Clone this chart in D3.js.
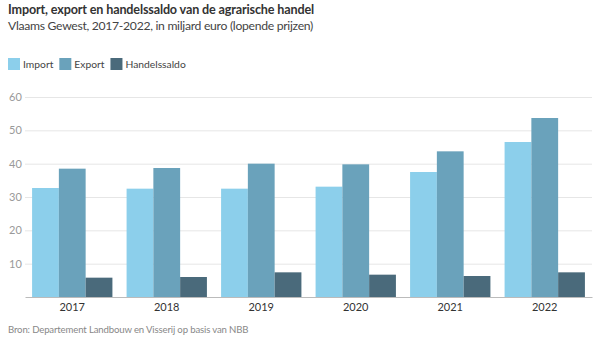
<!DOCTYPE html>
<html>
<head>
<meta charset="utf-8">
<script src="https://cdn.jsdelivr.net/npm/d3@7"></script>
<style>
  body { margin: 0; background: #fff; font-family: Lato, "Open Sans", sans-serif; }
  svg text { font-family: Lato, "Open Sans", sans-serif; }
</style>
</head>
<body>
<svg id="chart"></svg>
<script>
const years = ["2017", "2018", "2019", "2020", "2021", "2022"];
const importValues = [32.7, 32.5, 32.5, 33.1, 37.5, 46.5];
const exportValues = [38.5, 38.7, 40.0, 39.8, 43.7, 53.7];
const saldoValues = [5.8, 6.0, 7.4, 6.7, 6.3, 7.4];
const seriesNames = ["Import", "Export", "Handelssaldo"];
const yTicks = [10, 20, 30, 40, 50, 60];

const colors = ["#8ccfeb", "#6aa2bb", "#4a6a7b"];

const width = 600;
const height = 340;
const margin = { top: 97, right: 8, bottom: 43, left: 25 };

const svg = d3.select("#chart")
  .attr("width", width)
  .attr("height", height);

svg.append("text")
  .attr("x", 8)
  .attr("y", 14)
  .attr("font-size", 12.6)
  .attr("letter-spacing", -0.15)
  .attr("font-weight", "bold")
  .attr("fill", "#333")
  .text("Import, export en handelssaldo van de agrarische handel");

svg.append("text")
  .attr("x", 8)
  .attr("y", 30)
  .attr("font-size", 12.2)
  .attr("letter-spacing", -0.3)
  .attr("fill", "#444")
  .text("Vlaams Gewest, 2017-2022, in miljard euro (lopende prijzen)");

// legend
let lx = 8;
seriesNames.forEach((name, i) => {
  svg.append("rect")
    .attr("x", lx)
    .attr("y", 58)
    .attr("width", 12)
    .attr("height", 12)
    .attr("fill", colors[i]);
  const t = svg.append("text")
    .attr("x", lx + 15)
    .attr("y", 68)
    .attr("font-size", 10.3)
    .attr("fill", "#444")
    .text(name);
  lx += 15 + t.node().getComputedTextLength() + 6;
});

const x = d3.scaleBand()
  .domain(years)
  .range([margin.left, width - margin.right])
  .paddingInner(0.15)
  .paddingOuter(0.075);

const x1 = d3.scaleBand()
  .domain(seriesNames)
  .range([0, x.bandwidth()]);

const y = d3.scaleLinear()
  .domain([0, 60])
  .range([height - margin.bottom, margin.top]);

// gridlines and y labels
const yAxis = svg.append("g")
  .attr("transform", `translate(${margin.left},0)`)
  .call(d3.axisLeft(y).tickValues(yTicks).tickSize(-(width - margin.left - margin.right)).tickPadding(4));
yAxis.select(".domain").remove();
yAxis.selectAll(".tick line").attr("stroke", "#e6e6e6");
yAxis.selectAll(".tick text")
  .attr("font-size", 11)
  .attr("fill", "#999")
  .attr("text-anchor", "start")
  .attr("x", -16);

const rows = years.map((yr, i) => ({
  year: yr,
  values: [importValues[i], exportValues[i], saldoValues[i]]
}));

svg.append("g")
  .selectAll("g")
  .data(rows)
  .join("g")
  .attr("transform", d => `translate(${x(d.year)},0)`)
  .selectAll("rect")
  .data(d => d.values.map((v, i) => ({ key: seriesNames[i], value: v, i })))
  .join("rect")
  .attr("x", d => x1(d.key))
  .attr("width", x1.bandwidth())
  .attr("y", d => y(d.value))
  .attr("height", d => y(0) - y(d.value))
  .attr("fill", d => colors[d.i]);

// x axis
const xAxis = svg.append("g")
  .attr("transform", `translate(0,${y(0)})`)
  .call(d3.axisBottom(x).tickSize(0).tickPadding(6));
xAxis.select(".domain").attr("stroke", "#bbb");
xAxis.selectAll(".tick text")
  .attr("font-size", 11)
  .attr("fill", "#333");

svg.append("text")
  .attr("x", 8)
  .attr("y", 333)
  .attr("font-size", 9.6)
  .attr("letter-spacing", -0.15)
  .attr("fill", "#888")
  .text("Bron: Departement Landbouw en Visserij op basis van NBB");
</script>
</body>
</html>
